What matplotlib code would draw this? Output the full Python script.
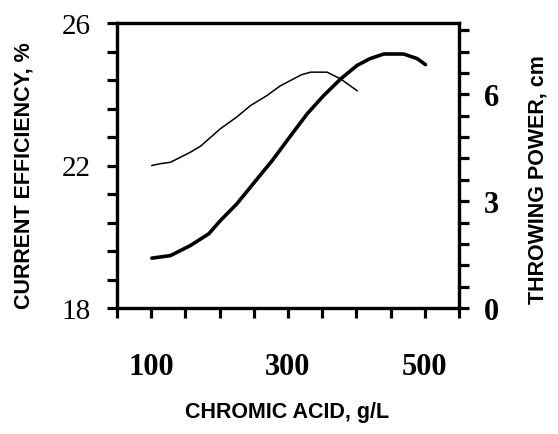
import numpy as np
import matplotlib
matplotlib.use("Agg")
import matplotlib.pyplot as plt
from matplotlib.ticker import FixedLocator

# Current efficiency (%) vs chromic acid (g/L) - thin line, left axis
ce_x = [101, 113, 128, 157, 172, 201, 225, 245, 269, 289, 320, 333, 357, 377, 401]
ce_y = [22.0, 22.05, 22.09, 22.37, 22.54, 23.03, 23.36, 23.68, 23.96, 24.24, 24.55, 24.62, 24.62, 24.43, 24.1]

# Throwing power (cm) vs chromic acid (g/L) - thick line, right axis
tp_x = [101, 128, 157, 184, 201, 225, 245, 259, 277, 306, 328, 352, 377, 401, 420, 440, 469, 489, 501]
tp_y = [1.40, 1.47, 1.75, 2.08, 2.45, 2.92, 3.39, 3.72, 4.14, 4.89, 5.45, 5.96, 6.43, 6.81, 7.00, 7.13, 7.13, 7.00, 6.83]

x_ticks = list(range(50, 551, 50))
x_labels = ["100", "300", "500"]
left_ticks = [18 + 0.8 * i for i in range(11)]
left_labels = ["18", "22", "26"]
right_ticks = [0.6 * i for i in range(14)]
right_labels = ["0", "3", "6"]

serif = ["Liberation Serif", "DejaVu Serif"]
sans = ["Liberation Sans Narrow", "Liberation Sans", "DejaVu Sans"]

fig = plt.figure(figsize=(5.58, 4.35), dpi=100)
ax = fig.add_axes([117/558, 1-309/435, (459-117)/558, (309-24)/435])
ax2 = ax.twinx()

ax.plot(ce_x, ce_y, color="black", lw=1.1)
ax2.plot(tp_x, tp_y, color="black", lw=2.6, solid_capstyle="round")

ax.set_xlim(50, 550)
ax.set_ylim(18, 26)
ax2.set_ylim(0, 8)

for a in (ax, ax2):
    for s in a.spines.values():
        s.set_linewidth(2.3)

def lab(ticks, shown):
    out = []
    for t in ticks:
        s = "%g" % round(t, 3)
        out.append(s if s in shown else "")
    return out

ax.xaxis.set_major_locator(FixedLocator(x_ticks))
ax.set_xticklabels(lab(x_ticks, x_labels), fontfamily=serif, fontsize=22, fontweight="bold")
ax.yaxis.set_major_locator(FixedLocator(left_ticks))
ax.set_yticklabels(lab(left_ticks, left_labels), fontfamily=serif, fontsize=21)
ax2.yaxis.set_major_locator(FixedLocator(right_ticks))
ax2.set_yticklabels(lab(right_ticks, right_labels), fontfamily=serif, fontsize=22, fontweight="bold")

ax.tick_params(axis="x", direction="out", length=7, width=2.3, pad=25)
ax.tick_params(axis="y", direction="out", length=7, width=2.3, pad=12)
ax2.tick_params(axis="y", direction="out", length=7, width=2.3, pad=11)

fig.text(287/558, 1-413/435, "CHROMIC ACID, g/L", ha="center", va="center",
         fontfamily=sans, fontsize=15.5, fontweight="bold")
fig.text(24/558, 1-176/435, "CURRENT EFFICIENCY, %", ha="center", va="center",
         rotation=90, fontfamily=sans, fontsize=15.5, fontweight="bold")
fig.text(538/558, 1-180/435, "THROWING POWER, cm", ha="center", va="center",
         rotation=90, fontfamily=sans, fontsize=15.5, fontweight="bold")

fig.savefig("out.png", dpi=100)
